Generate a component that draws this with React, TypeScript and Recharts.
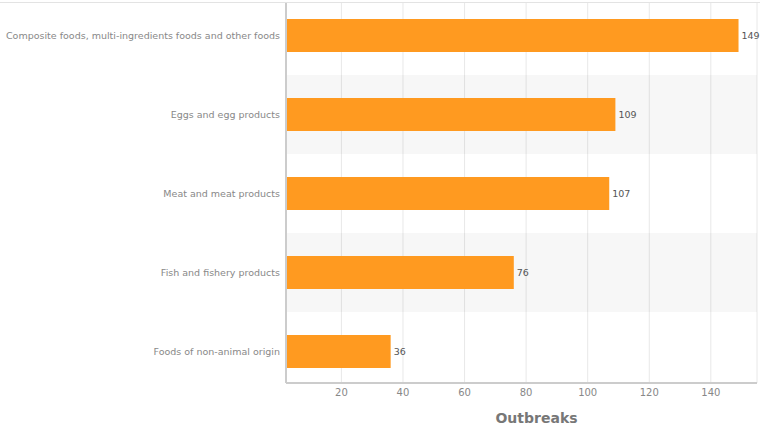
import { BarChart, Bar, XAxis, YAxis, CartesianGrid, ReferenceArea, LabelList, Label } from "recharts";

const CATEGORIES = [
  "Composite foods, multi-ingredients foods and other foods",
  "Eggs and egg products",
  "Meat and meat products",
  "Fish and fishery products",
  "Foods of non-animal origin",
];
const OUTBREAKS = [149, 109, 107, 76, 36];
const X_TICKS = [20, 40, 60, 80, 100, 120, 140];
const SHADED = [CATEGORIES[1], CATEGORIES[3]];

const FONT = "'DejaVu Sans', Verdana, sans-serif";

const data = CATEGORIES.map((name, i) => ({ name, value: OUTBREAKS[i] }));

// single-line category label (default tick wraps long text)
function CategoryTick(props: any) {
  const { x, y, payload } = props;
  return (
    <text x={x} y={y} dy="0.355em" textAnchor="end" fontSize={9.5} fill="#888" fontFamily={FONT}>
      {payload.value}
    </text>
  );
}

export default function App() {
  return (
    <div style={{ position: "fixed", left: 0, top: 0, width: 760, height: 430, background: "#fff", fontFamily: FONT }}>
      {/* thin frame line along the top */}
      <div style={{ position: "absolute", left: 0, top: 2, width: 760, height: 1, background: "#e3e3e3" }} />
      <BarChart
        width={760}
        height={430}
        data={data}
        layout="vertical"
        margin={{ top: 3, right: 3, left: 0, bottom: 0 }}
      >
        {SHADED.map((c) => (
          <ReferenceArea key={c} y1={c} y2={c} fill="#000" fillOpacity={0.03} stroke="none" ifOverflow="visible" />
        ))}
        <CartesianGrid horizontal={false} stroke="#e8e8e8" />
        <XAxis
          type="number"
          domain={[2, 155]}
          ticks={X_TICKS}
          height={47}
          tickLine={false}
          tickSize={4}
          axisLine={{ stroke: "#cccccc", strokeWidth: 2 }}
          tick={{ fontSize: 10, fill: "#888", fontFamily: FONT }}
        >
          <Label
            value="Outbreaks"
            position="insideBottom"
            offset={7}
            dx={15}
            style={{ fontSize: 14, fontWeight: "bold", fill: "#777", fontFamily: FONT }}
          />
        </XAxis>
        <YAxis
          type="category"
          dataKey="name"
          width={286}
          padding={{ top: -7, bottom: -8 }}
          tickLine={false}
          tickSize={4}
          tickMargin={2}
          axisLine={{ stroke: "#cccccc", strokeWidth: 2 }}
          tick={<CategoryTick />}
          interval={0}
        />
        <Bar dataKey="value" fill="#ff9a20" barSize={33} isAnimationActive={false}>
          <LabelList dataKey="value" position="right" offset={3} style={{ fontSize: 9.5, fill: "#555", fontFamily: FONT }} />
        </Bar>
      </BarChart>
    </div>
  );
}
